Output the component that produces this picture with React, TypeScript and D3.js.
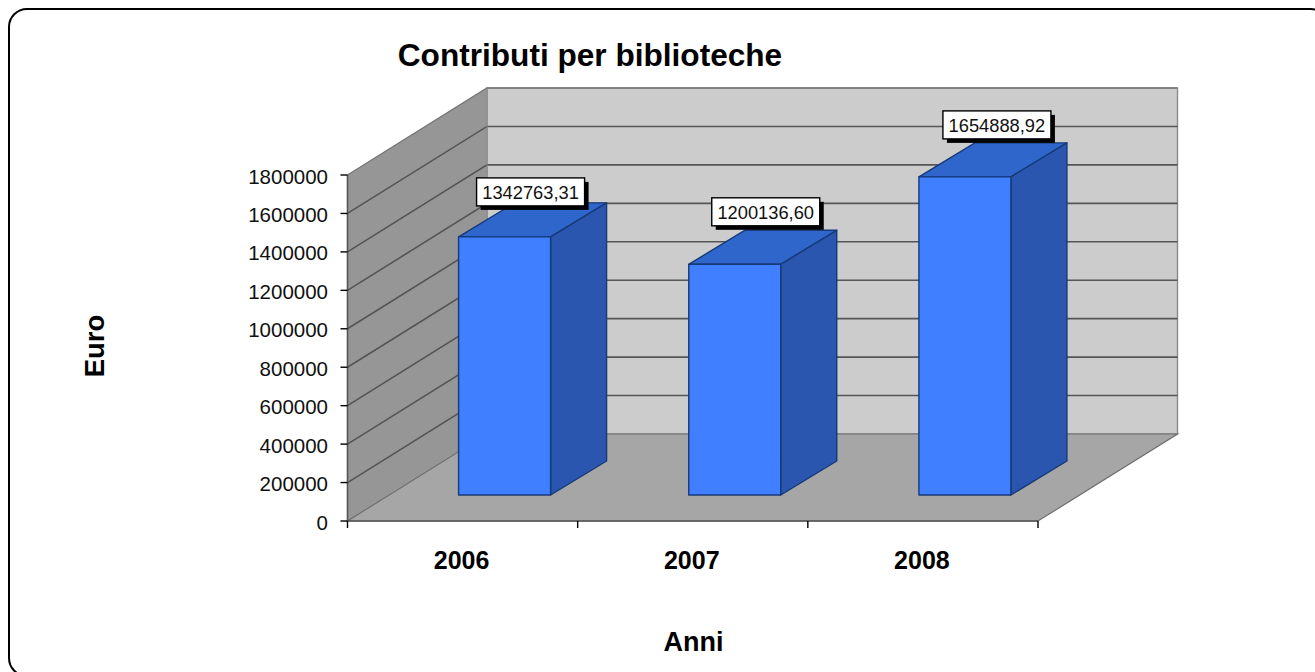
import React from "react";
import * as d3 from "d3";

const years = ["2006", "2007", "2008"];
const values = [1342763.31, 1200136.6, 1654888.92];
const valueLabels = ["1342763,31", "1200136,60", "1654888,92"];
const yTicks = [0, 200000, 400000, 600000, 800000, 1000000, 1200000, 1400000, 1600000, 1800000];

const FONT = "'Liberation Sans', Arial, sans-serif";
const W = 1315, H = 672;
const y = d3.scaleLinear().domain([0, 1800000]).range([521, 175]);
const x = d3.scaleBand().domain(years).range([347.5, 1038]).paddingInner(0);
const DX = 139.5, DY = -87;         // depth of the plot box
const BAR_W = 92;                   // front face width
const BAR_DX = 56, BAR_DY = -34;    // bar depth
const BAR_INSET_DX = 42, BAR_INSET_DY = -26; // offset of bar from front plane
const LABEL_SHIFT = [[18, -59], [23, -66.5], [24, -66]]; // data label box relative to bar corner
const LABEL_W = 108, LABEL_H = 28;

const poly = (pts: number[][]) => d3.line()(pts as [number, number][]) + "Z";

export default function App() {
  const top = y(1800000), base = y(0);
  const x0 = x.range()[0], x1 = x.range()[1];
  const barLeft = (yr: string) => x(yr)! + (x.bandwidth() - BAR_W) / 2 + BAR_INSET_DX;
  return (
    <svg width={W} height={H} style={{ position: "absolute", left: 0, top: 0 }} fontFamily={FONT}>
      <defs>
        <filter id="sm" x="-10%" y="-10%" width="120%" height="120%"><feGaussianBlur stdDeviation="0.5" /></filter>
      </defs>
      <rect x={9} y={9} width={1320} height={667} rx={18} ry={18} fill="none" stroke="#000" strokeWidth={2} />

      <g filter="url(#sm)">
        {/* back wall */}
        <rect x={x0 + DX} y={top + DY} width={x1 - x0} height={base - top} fill="#cccccc" stroke="#8a8a8a" strokeWidth={1.4} />
        {/* left wall */}
        <path d={poly([[x0, base], [x0, top], [x0 + DX, top + DY], [x0 + DX, base + DY]])} fill="#969696" />
        {/* floor */}
        <path d={poly([[x0, base], [x1, base], [x1 + DX, base + DY], [x0 + DX, base + DY]])} fill="#a6a6a6" stroke="#6e6e6e" strokeWidth={1.2} />
        {/* gridlines */}
        {yTicks.map((t) => (
          <g key={t}>
            {t > 0 && t < 1800000 && <path d={`M${x0},${y(t)}L${x0 + DX},${y(t) + DY}H${x1 + DX}`} fill="none" stroke="#555" strokeWidth={1.6} />}
          </g>
        ))}
        <path d={`M${x0},${top}L${x0 + DX},${top + DY}H${x1 + DX}`} stroke="#777" strokeWidth={1.4} fill="none" />
        <path d={`M${x0 + DX},${top + DY}V${base + DY}`} stroke="#8a8a8a" strokeWidth={1} fill="none" />

        {/* bars */}
        {years.map((yr, i) => {
          const left = barLeft(yr);
          const right = left + BAR_W;
          const bottom = base + BAR_INSET_DY;
          const t = y(values[i]) + BAR_INSET_DY;
          return (
            <g key={yr} stroke="#173a78" strokeWidth={1.4} strokeLinejoin="round">
              <path d={poly([[left, t], [right, t], [right + BAR_DX, t + BAR_DY], [left + BAR_DX, t + BAR_DY]])} fill="#2f66cc" />
              <path d={poly([[right, t], [right + BAR_DX, t + BAR_DY], [right + BAR_DX, bottom + BAR_DY], [right, bottom]])} fill="#2957b0" />
              <rect x={left} y={t} width={BAR_W} height={bottom - t} fill="#3f7fff" />
            </g>
          );
        })}

        {/* front axes */}
        <path d={`M${x0},${top}V${base}H${x1}`} fill="none" stroke="#555" strokeWidth={1.6} />
      </g>

      {/* ticks */}
      <g stroke="#000" strokeWidth={1.4}>
        {yTicks.map((t) => <line key={t} x1={x0 - 7} x2={x0} y1={y(t)} y2={y(t)} />)}
        {[...years.map((yr) => x(yr)!), x1].map((v) => <line key={v} x1={v} x2={v} y1={base} y2={base + 7} />)}
      </g>

      {/* tick labels */}
      <g fontSize={20.5} textAnchor="end" fill="#111">
        {yTicks.map((t) => <text key={t} x={328} y={y(t) + 8.5}>{t}</text>)}
      </g>
      <g fontSize={25} fontWeight="bold" textAnchor="middle" fill="#000">
        {years.map((yr) => <text key={yr} x={x(yr)! + x.bandwidth() / 2 - 1} y={569}>{yr}</text>)}
      </g>

      {/* data labels */}
      {years.map((yr, i) => {
        const t = y(values[i]) + BAR_INSET_DY;
        const bx = barLeft(yr) + LABEL_SHIFT[i][0], by = t + LABEL_SHIFT[i][1];
        return (
          <g key={yr}>
            <rect x={bx + 4} y={by + 4} width={LABEL_W} height={LABEL_H} fill="#000" />
            <rect x={bx} y={by} width={LABEL_W} height={LABEL_H} fill="#fff" stroke="#000" strokeWidth={1.4} />
            <text x={bx + LABEL_W / 2} y={by + 21} fontSize={18.3} textAnchor="middle" fill="#111">{valueLabels[i]}</text>
          </g>
        );
      })}

      <text x={590} y={66} fontSize={31.6} fontWeight="bold" textAnchor="middle">Contributi per biblioteche</text>
      <text x={693.5} y={650.5} fontSize={27} fontWeight="bold" textAnchor="middle">Anni</text>
      <text transform="translate(103.5,346) rotate(-90)" fontSize={27.5} fontWeight="bold" textAnchor="middle">Euro</text>
    </svg>
  );
}
